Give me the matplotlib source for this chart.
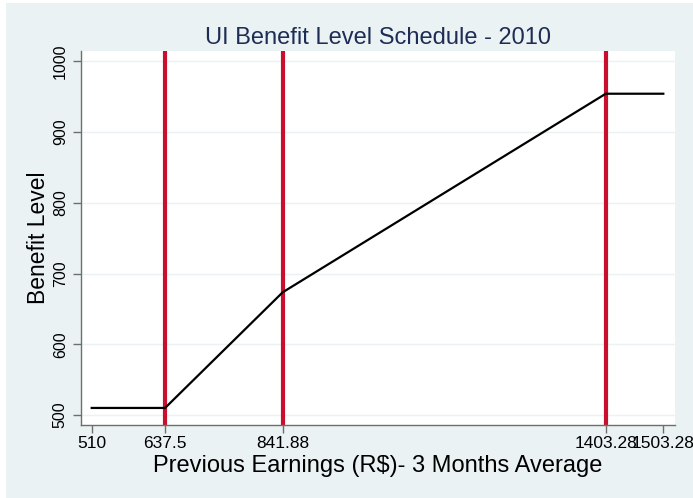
import matplotlib
matplotlib.use("Agg")
import matplotlib.pyplot as plt
from matplotlib.patches import Rectangle

plt.rcParams["font.family"] = ["Liberation Sans", "DejaVu Sans"]

# ── data ──────────────────────────────────────────────
earnings = [510, 637.5, 841.88, 1403.28, 1503.28]
benefit = [510, 510, 673.50, 954.21, 954.21]
thresholds = [637.5, 841.88, 1403.28]
xtick_vals = [510, 637.5, 841.88, 1403.28, 1503.28]
xtick_labels = ["510", "637.5", "841.88", "1403.28", "1503.28"]
ytick_vals = [500, 600, 700, 800, 900, 1000]

BG = "#EAF2F3"
RED = "#C8102E"
NAVY = "#1E2D55"
AXC = "#6E6E6E"

fig = plt.figure(figsize=(6.93, 4.98), dpi=100)
fig.patch.set_facecolor("white")
fig.patches.append(Rectangle((6 / 693, 0), 1, 1 - 3 / 498, transform=fig.transFigure,
                             facecolor=BG, edgecolor="none", zorder=-10))

ax = fig.add_axes([81 / 693, 1 - 425 / 498, (675 - 81) / 693, (425 - 51) / 498])
ax.set_facecolor("white")

for y in ytick_vals:
    ax.axhline(y, color=BG, linewidth=1.0, zorder=1)

for x in thresholds:
    ax.axvline(x, color=RED, linewidth=3.0, zorder=2)

ax.plot(earnings, benefit, color="black", linewidth=1.6, zorder=3)

ax.set_xlim(491.4, 1523.6)
ax.set_ylim(485.9, 1014.6)
ax.set_xticks(xtick_vals)
ax.set_xticklabels(xtick_labels, fontsize=12.5)
ax.set_yticks(ytick_vals)
ax.set_yticklabels([str(v) for v in ytick_vals], fontsize=11.5, rotation=90, va="center")

for side in ("top", "right"):
    ax.spines[side].set_visible(False)
for side in ("left", "bottom"):
    ax.spines[side].set_color(AXC)
    ax.spines[side].set_linewidth(1.0)
ax.tick_params(axis="both", colors=AXC, length=6, width=1.0, labelcolor="black")
ax.tick_params(axis="x", pad=2)

ax.set_xlabel("Previous Earnings (R$)- 3 Months Average", fontsize=17, labelpad=3)
ax.set_ylabel("Benefit Level", fontsize=16.5, labelpad=2)
ax.set_title("UI Benefit Level Schedule - 2010", fontsize=17, color=NAVY, pad=5)

fig.savefig("out.png", dpi=100, facecolor=fig.get_facecolor())
